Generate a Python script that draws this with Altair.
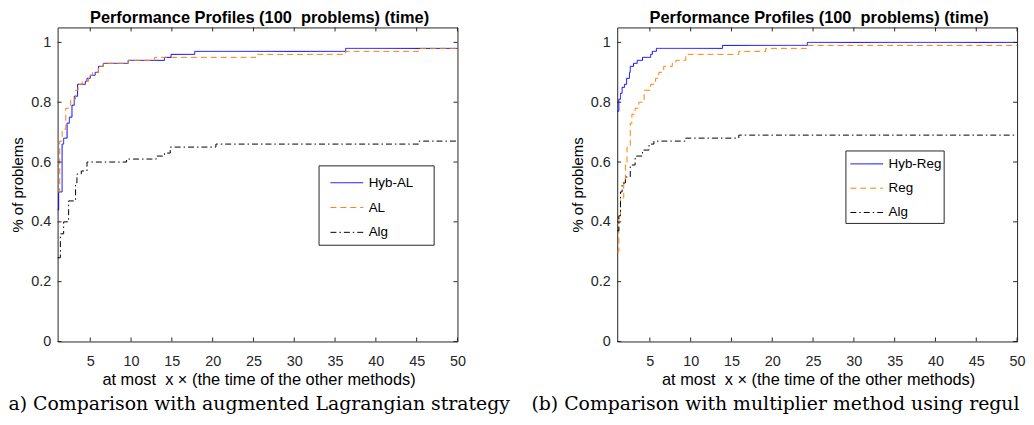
import altair as alt
import pandas as pd

# ---------------- data ----------------
x_ticks = [5, 10, 15, 20, 25, 30, 35, 40, 45, 50]
y_ticks = [0, 0.2, 0.4, 0.6, 0.8, 1]

# panel (a)
a_names = ["Hyb-AL", "AL", "Alg"]
hyb_al_x = [1, 1.13, 1.55, 1.74, 2.16, 2.44, 2.76, 3.04, 3.45, 4.4, 4.6, 5.0, 5.6, 6.0, 6.6, 9.65, 14.1, 14.9, 17.8, 36.3, 50]
hyb_al_y = [0.44, 0.50, 0.66, 0.68, 0.73, 0.75, 0.79, 0.82, 0.86, 0.87, 0.88, 0.89, 0.90, 0.92, 0.93, 0.94, 0.95, 0.96, 0.97, 0.98, 0.98]
al_x = [1, 1.26, 1.55, 2.0, 2.6, 3.2, 3.5, 4.0, 4.8, 5.3, 6.0, 6.6, 9.65, 12.9, 25.3, 36.3, 45.2, 50]
al_y = [0.50, 0.67, 0.71, 0.78, 0.81, 0.84, 0.86, 0.87, 0.89, 0.90, 0.92, 0.93, 0.94, 0.95, 0.96, 0.97, 0.98, 0.98]
alg_a_x = [1, 1.34, 1.74, 2.35, 3.2, 3.37, 3.9, 4.6, 9.45, 13.1, 14.1, 14.8, 20.4, 45.3, 50]
alg_a_y = [0.28, 0.36, 0.40, 0.47, 0.53, 0.56, 0.57, 0.60, 0.61, 0.62, 0.63, 0.65, 0.66, 0.67, 0.67]

# panel (b)
b_names = ["Hyb-Reg", "Reg", "Alg"]
hyb_reg_x = [1, 1.2, 1.4, 1.6, 1.9, 2.15, 2.5, 2.6, 3.0, 3.45, 4.1, 5.1, 5.3, 5.8, 13.9, 24.3, 50]
hyb_reg_y = [0.77, 0.81, 0.83, 0.85, 0.86, 0.88, 0.90, 0.92, 0.93, 0.94, 0.95, 0.96, 0.97, 0.98, 0.99, 1.00, 1.00]
reg_x = [1, 1.2, 1.4, 1.8, 2.0, 2.2, 2.6, 2.8, 3.2, 3.65, 4.3, 5.1, 5.7, 6.1, 6.7, 7.75, 8.2, 9.4, 15.9, 19.2, 24.3, 50]
reg_y = [0.30, 0.42, 0.48, 0.53, 0.60, 0.65, 0.73, 0.76, 0.78, 0.80, 0.84, 0.86, 0.88, 0.90, 0.92, 0.93, 0.94, 0.96, 0.97, 0.98, 0.99, 0.99]
alg_b_x = [1, 1.2, 1.4, 1.6, 2.0, 2.6, 3.2, 4.1, 4.9, 5.5, 9.4, 15.9, 50]
alg_b_y = [0.37, 0.42, 0.50, 0.53, 0.55, 0.59, 0.62, 0.64, 0.66, 0.67, 0.68, 0.69, 0.69]

title_text = "Performance Profiles (100\u00a0 problems) (time)"
x_title = "at most\u00a0 x \u00d7 (the time of the other methods)"
y_title = "% of problems"
caption_a = "a) Comparison with augmented Lagrangian strategy"
caption_b = "(b) Comparison with multiplier method using regul"

series_colors = ["#0000ff", "#ff8000", "#000000"]
series_dashes = [[1, 0], [6, 4], [6, 3, 1.5, 3]]

# ---------------- layout ----------------
W, H = 403, 316.5
FONT = "Liberation Sans"
AX = "#262626"


def panel(names, xs_list, ys_list, caption, cap_x, box, leg_x, leg_y, row_pad):
    rows = []
    for name, xs, ys in zip(names, xs_list, ys_list):
        for x, y in zip(xs, ys):
            rows.append({"method": name, "x": x, "y": y})
    df = pd.DataFrame(rows)

    xscale = alt.Scale(domain=[1, 50], nice=False, zero=False)
    yscale = alt.Scale(domain=[0, 1.05], nice=False, zero=False)

    legend = alt.Legend(
        orient="none", legendX=leg_x, legendY=leg_y, title=None,
        symbolType="stroke", symbolSize=1089, symbolStrokeWidth=1,
        clipHeight=13, rowPadding=row_pad, labelOffset=5, padding=0,
        labelFont=FONT, labelFontSize=13.5, labelColor="#000000",
    )

    lines = alt.Chart(df).mark_line(interpolate="step-after", strokeWidth=1).encode(
        x=alt.X("x:Q", scale=xscale, axis=alt.Axis(
            values=x_ticks, title=x_title, labelFlush=False, labelPadding=13,
            titleFontSize=16.5, titleX=W / 2 + 1, titleY=38.5, titleBaseline="middle")),
        y=alt.Y("y:Q", scale=yscale, axis=alt.Axis(
            values=y_ticks, format="~g", title=y_title, labelPadding=7,
            titleFontSize=15, titleX=-40, titleY=H / 2, titleBaseline="middle")),
        color=alt.Color("method:N", scale=alt.Scale(domain=names, range=series_colors), legend=legend),
        strokeDash=alt.StrokeDash("method:N", scale=alt.Scale(domain=names, range=series_dashes), legend=legend),
    )

    # legend frame (white box with dark border) behind the legend entries
    frame = alt.Chart(pd.DataFrame({"k": [0]})).mark_rect(
        fill="#ffffff", stroke=AX, strokeWidth=1
    ).encode(x=alt.value(box[0]), x2=alt.value(box[1]), y=alt.value(box[2]), y2=alt.value(box[3]))

    xt = pd.DataFrame({"v": x_ticks})
    yt = pd.DataFrame({"v": y_ticks})
    tick_style = dict(color=AX, strokeWidth=1)
    bx = alt.Chart(xt).mark_rule(**tick_style).encode(
        x=alt.X("v:Q", scale=xscale), y=alt.value(H), y2=alt.value(H - 4))
    tx = alt.Chart(xt).mark_rule(**tick_style).encode(
        x=alt.X("v:Q", scale=xscale), y=alt.value(0), y2=alt.value(4))
    ly = alt.Chart(yt).mark_rule(**tick_style).encode(
        y=alt.Y("v:Q", scale=yscale), x=alt.value(0), x2=alt.value(4))
    ry = alt.Chart(yt).mark_rule(**tick_style).encode(
        y=alt.Y("v:Q", scale=yscale), x=alt.value(W), x2=alt.value(W - 4))

    ttl = alt.Chart(pd.DataFrame({"t": [title_text]})).mark_text(
        align="center", baseline="alphabetic", font=FONT, fontSize=16.5, fontWeight="bold", color="#000000"
    ).encode(text="t:N", x=alt.value(W / 2 + 2), y=alt.value(-4.5))

    cap = alt.Chart(pd.DataFrame({"t": [caption]})).mark_text(
        align="left", baseline="alphabetic", font="DejaVu Serif", fontSize=19, color="#000000"
    ).encode(text="t:N", x=alt.value(cap_x), y=alt.value(386))

    return alt.layer(lines, bx, tx, ly, ry, frame, ttl, cap).properties(width=W, height=H)


left = panel(a_names, [hyb_al_x, al_x, alg_a_x], [hyb_al_y, al_y, alg_a_y], caption_a, -49.5,
             (263.5, 379.5, 139.5, 219.5), 274.5, 150, 11)
right = panel(b_names, [hyb_reg_x, reg_x, alg_b_x], [hyb_reg_y, reg_y, alg_b_y], caption_b, -86.5,
              (230.5, 329.5, 124.5, 197.5), 234.5, 131, 10.5)

chart = alt.hconcat(left, right, spacing=161, bounds="flush").resolve_scale(
    color="independent", strokeDash="independent"
).resolve_legend(
    color="independent", strokeDash="independent"
).properties(padding=0).configure_axis(
    labelFont=FONT, labelFontSize=14.5, labelColor=AX,
    titleFont=FONT, titleFontWeight="normal", titleColor="#000000",
    ticks=False, domain=False, grid=False,
).configure_view(stroke=AX, strokeWidth=1)

chart.save("out.html", embed_options={"renderer": "svg", "actions": False})
